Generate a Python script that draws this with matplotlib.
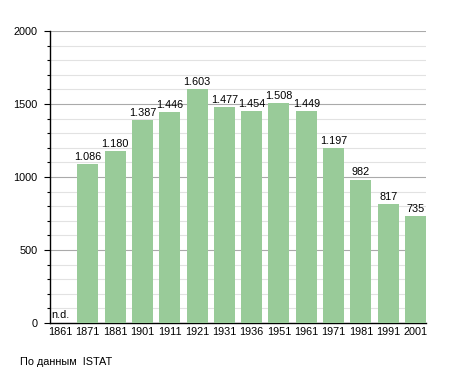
import matplotlib.pyplot as plt
import numpy as np

plt.rcParams['font.family'] = ['Liberation Sans', 'DejaVu Sans']

years = ['1861', '1871', '1881', '1901', '1911', '1921', '1931',
         '1936', '1951', '1961', '1971', '1981', '1991', '2001']
# None = no data (n.d.)
population = [None, 1086, 1180, 1387, 1446, 1603, 1477,
              1454, 1508, 1449, 1197, 982, 817, 735]


def fmt(v):
    return '{:,}'.format(v).replace(',', '.')


fig = plt.figure(figsize=(4.55, 3.73), dpi=100)
ax = fig.add_axes([50 / 455, 50 / 373, 376 / 455, 292 / 373])

x = np.arange(len(years))
heights = [0 if v is None else v for v in population]
w = 0.77
ax.bar(x, heights, width=w, color='#99cb99', zorder=3)

for i, v in enumerate(population):
    if v is None:
        ax.text(x[i] - w / 2 + 0.05, 20, 'n.d.', ha='left', va='bottom',
                fontsize=7.8, zorder=4)
    else:
        ax.text(x[i], v + 15, fmt(v), ha='center', va='bottom',
                fontsize=7.8, zorder=4)

ax.set_xlim(-w / 2, len(years) - 1 + w / 2)
ax.set_ylim(0, 2000)
ax.set_xticks(x)
ax.set_xticklabels(years, fontsize=7.8)
ax.set_yticks(np.arange(0, 2001, 500))
ax.set_yticklabels([str(v) for v in range(0, 2001, 500)], fontsize=7.8)
ax.set_yticks(np.arange(0, 2001, 100), minor=True)

ax.grid(axis='y', which='major', color='#aaaaaa', linewidth=0.8, zorder=1)
ax.grid(axis='y', which='minor', color='#e2e2e2', linewidth=0.8, zorder=1)
ax.tick_params(axis='x', length=0, pad=3)
ax.tick_params(axis='y', which='major', length=4, width=0.8, pad=5)
ax.tick_params(axis='y', which='minor', length=2, width=0.8)

ax.spines['top'].set_visible(False)
ax.spines['right'].set_visible(False)
ax.spines['left'].set_linewidth(1)
ax.spines['bottom'].set_linewidth(1)

fig.text(20 / 455, 1 - 362 / 373, 'По данным  ISTAT', fontsize=7.8,
         ha='left', va='center')

plt.savefig('out.png', dpi=100)
